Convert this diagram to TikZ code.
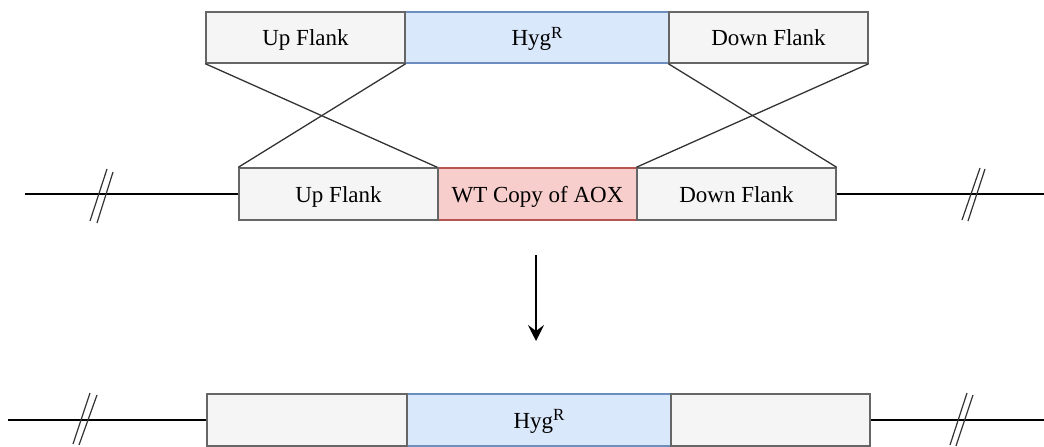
\documentclass[tikz,border=0pt]{standalone}
\usepackage{fontspec}
\setmainfont{Liberation Serif}
\usetikzlibrary{arrows.meta}
\definecolor{grayfill}{HTML}{F5F5F5}
\definecolor{graydraw}{HTML}{666666}
\definecolor{bluefill}{HTML}{DAE8FC}
\definecolor{bluedraw}{HTML}{6C8EBF}
\definecolor{redfill}{HTML}{F8CECC}
\definecolor{reddraw}{HTML}{B85450}
\newcommand{\hygr}{Hyg\raisebox{7.5pt}{\fontsize{17}{17}\selectfont R}}
\tikzset{
  seg/.style={draw, rectangle, minimum height=51pt, inner sep=0pt, line width=1.4pt,
    text height=16.5pt, text depth=0pt, font=\fontsize{23}{27}\selectfont},
  flank/.style={seg, fill=grayfill, draw=graydraw},
  hyg/.style={seg, fill=bluefill, draw=bluedraw},
  wt/.style={seg, fill=redfill, draw=reddraw},
  cross/.style={draw=black!80, line width=1.3pt},
  dna/.style={draw=black, line width=1.3pt},
  brk/.style={draw=black!80, line width=1.2pt},
}
\begin{document}
\begin{tikzpicture}[x=1pt, y=-1pt]
\useasboundingbox (0,0) rectangle (1044,447);

% donor construct
\node[hyg, minimum width=264pt] (thyg) at (537,37.5) {\hygr};
\node[flank, minimum width=199pt] (tup) at (305.5,37.5) {Up Flank};
\node[flank, minimum width=199pt] (tdown) at (768.5,37.5) {Down Flank};

% wild-type locus
\node[wt, minimum width=199pt, minimum height=52pt] (mwt) at (537.5,194) {WT Copy of AOX};
\node[flank, minimum width=199pt, minimum height=52pt] (mup) at (338.5,194) {Up Flank};
\node[flank, minimum width=199pt, minimum height=52pt] (mdown) at (736.5,194) {Down Flank};

% recombined locus
\node[hyg, minimum width=264pt, minimum height=52pt] (bhyg) at (539,420) {\hygr};
\node[flank, minimum width=200pt, minimum height=52pt] (bup) at (307,420) {};
\node[flank, minimum width=199pt, minimum height=52pt] (bdown) at (770.5,420) {};

% crossover lines
\draw[cross] (tup.south west) -- (mwt.north west);
\draw[cross] (tup.south east) -- (mup.north west);
\draw[cross] (tdown.south west) -- (mdown.north east);
\draw[cross] (tdown.south east) -- (mdown.north west);

% chromosome ends
\coordinate (ml) at (25,194);
\coordinate (mr) at (1044,194);
\coordinate (bl) at (8,420);
\coordinate (br) at (1044,420);
\draw[dna] (ml) -- (mup.west);
\draw[dna] (mdown.east) -- (mr);
\draw[dna] (bl) -- (bup.west);
\draw[dna] (bdown.east) -- (br);

% break marks
\draw[brk] (90,221) -- (107,169) (97,223) -- (113,172);
\draw[brk] (962,220) -- (980,168) (968,221) -- (985,169);
\draw[brk] (73,444) -- (90,393) (79,445) -- (97,395);
\draw[brk] (950,445) -- (967,393) (956,446) -- (973,395);

% transformation arrow
\coordinate (as) at (536,255);
\coordinate (ae) at (536,341);
\draw[dna, -{Stealth[length=16pt, width=16pt, inset=6pt]}] (as) -- (ae);
\end{tikzpicture}
\end{document}
